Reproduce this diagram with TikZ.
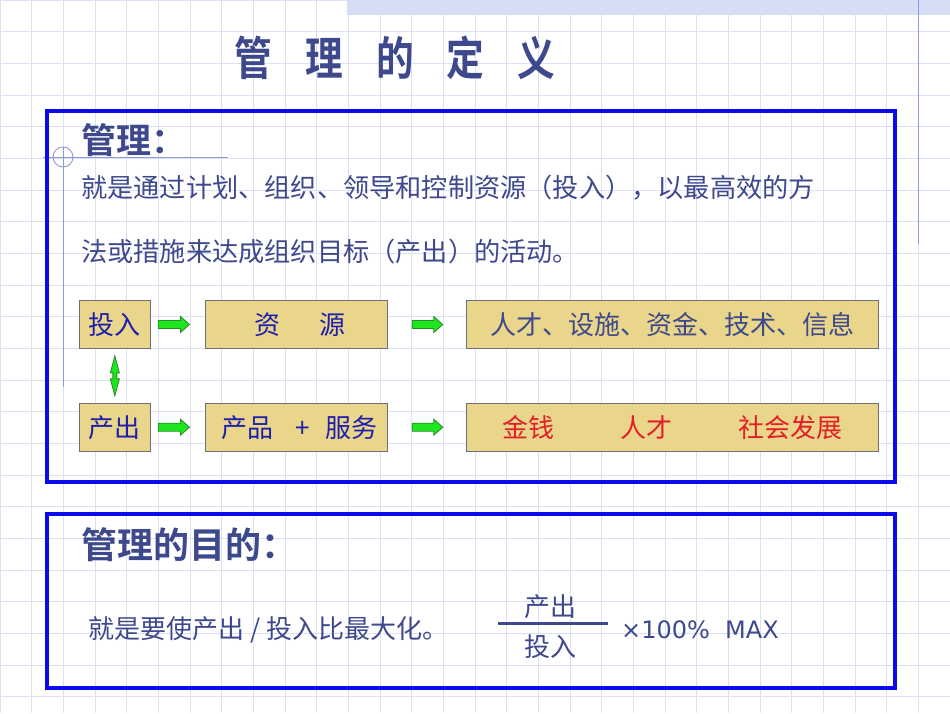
\documentclass[tikz,border=0pt]{standalone}
\usepackage{fontspec}
\usetikzlibrary{calc}
\setmainfont{DejaVu Sans}
\newfontfamily\cjk{Noto Sans CJK SC}
\IfFontExistsTF{Noto Sans CJK SC Bold}{%
  \newfontfamily\cjkbold{Noto Sans CJK SC Bold}%
  \newfontfamily\titlef[FakeStretch=0.82]{Noto Sans CJK SC Bold}}{%
  \newfontfamily\cjkbold[FakeBold=2]{Noto Sans CJK SC}%
  \newfontfamily\titlef[FakeStretch=0.82,FakeBold=2]{Noto Sans CJK SC}}
\definecolor{slate}{RGB}{62,72,140}
\definecolor{tboxblue}{RGB}{30,30,175}
\definecolor{tanfill}{RGB}{233,214,138}
\definecolor{tanline}{RGB}{110,110,120}
\definecolor{gfill}{RGB}{30,230,30}
\definecolor{gline}{RGB}{40,140,40}
\definecolor{redtxt}{RGB}{228,30,40}
\definecolor{gridc}{RGB}{218,225,246}
\definecolor{decoc}{RGB}{140,155,215}
\definecolor{bandc}{RGB}{214,222,246}
\definecolor{framec}{RGB}{10,10,235}
\newcommand\greenarrow[2]{\draw[garrow] let \p1=(#1), \p2=(#2) in
  (\x1,\y1+4pt) -- (\x2-9pt,\y1+4pt) -- (\x2-9pt,\y1+8pt) -- (\x2,\y1) --
  (\x2-9pt,\y1-8pt) -- (\x2-9pt,\y1-4pt) -- (\x1,\y1-4pt) -- cycle;}
\begin{document}
\begin{tikzpicture}[x=1pt,y=-1pt,
  gridline/.style={draw=gridc,line width=1pt},
  deco/.style={draw=decoc,line width=0.9pt},
  frame/.style={draw=framec,line width=4pt},
  tanbox/.style={draw=tanline,fill=tanfill,line width=1pt,inner sep=0pt,
    minimum height=47.6pt,font=\cjk\fontsize{26}{30}\selectfont,text=tboxblue},
  garrow/.style={fill=gfill,draw=gline,line width=0.8pt,line join=miter},
  heading/.style={anchor=west,inner sep=0pt,text=slate,font=\cjkbold\fontsize{35}{40}\selectfont},
  body/.style={anchor=west,inner sep=0pt,text=slate,font=\cjk\fontsize{26.2}{30}\selectfont},
  fracline/.style={draw=slate,line width=3pt}]
\useasboundingbox (0,0) rectangle (950,713);
\fill[white] (0,0) rectangle (950,713);
% grid
\foreach \i in {0,...,30} \draw[gridline] (\i*31.667,0) -- (\i*31.667,713);
\foreach \j in {0,...,22} \draw[gridline] (0,\j*31.667) -- (950,\j*31.667);
% top band and decorations
\fill[bandc] (347,0) rectangle (950,15);
\draw[deco] (918,0) -- (918,244);
\draw[deco] (63,157) circle (10);
\draw[deco] (43,157) -- (228,157);
\draw[deco] (63,147) -- (63,387);
% frames
\draw[frame] (47,111) rectangle (895,482);
\draw[frame] (47,514) rectangle (895,688);
% title
\node[inner sep=0pt,text=slate,font=\titlef\fontsize{46}{50}\selectfont] (title) at (395,58)
  {管\hspace{33pt}理\hspace{33pt}的\hspace{33pt}定\hspace{33pt}义};
% first section
\node[heading] (h1) at (81,140) {管理：};
\node[body] (l1) at (81,188) {就是通过计划、组织、领导和控制资源（投入），以最高效的方};
\node[body] (l2) at (81,252) {法或措施来达成组织目标（产出）的活动。};
% boxes
\node[tanbox,minimum width=71.7pt] (in) at (114.85,324.5) {投入};
\node[tanbox,minimum width=182pt] (res) at (296.7,324.5) {\hspace*{6pt}资\hspace{39pt}源};
\node[tanbox,minimum width=412pt,text=slate] (resr) at (672.7,324.5) {人才、设施、资金、技术、信息};
\node[tanbox,minimum width=71.7pt] (out) at (114.85,427.2) {产出};
\node[tanbox,minimum width=182pt] (prod) at (296.7,427.2) {\hspace*{6pt}产品\hspace{22pt}+\hspace{16pt}服务};
\node[tanbox,minimum width=412pt,text=redtxt] (outr) at (672.7,427.2) {金钱\hspace{66pt}人才\hspace{66pt}社会发展};
% arrows
\greenarrow{[xshift=7pt]in.east}{[xshift=-15.7pt]res.west}
\greenarrow{[xshift=24pt]res.east}{[xshift=-23.4pt]resr.west}
\greenarrow{[xshift=7pt]out.east}{[xshift=-15.7pt]prod.west}
\greenarrow{[xshift=24pt]prod.east}{[xshift=-23.4pt]outr.west}
\draw[garrow] ($(in.south)!0.5!(out.north)$) ++(0,-20) -- ++(4.5,17) -- ++(-2.5,0) -- ++(0,6)
  -- ++(2.5,0) -- ++(-4.5,17) -- ++(-4.5,-17) -- ++(2.5,0) -- ++(0,-6) -- ++(-2.5,0) -- cycle;
% second section
\node[heading,font=\cjkbold\fontsize{36}{40}\selectfont] (h2) at (81,545) {管理的目的：};
\node[body,font=\cjk\fontsize{26}{30}\selectfont] (goal) at (88,630) {就是要使产出 / 投入比最大化。};
\node[inner sep=0pt,text=slate,font=\cjk\fontsize{26}{30}\selectfont] (num) at (550,607) {产出};
\node[inner sep=0pt,text=slate,font=\cjk\fontsize{26}{30}\selectfont] (den) at (550,647) {投入};
\coordinate (fl) at (498,623);
\coordinate (fr) at (608,623);
\draw[fracline] (fl) -- (fr);
\node[anchor=west,inner sep=0pt,text=slate,font=\fontsize{24}{28}\selectfont] (mx) at (621,630) {×100\%\ \ MAX};
\end{tikzpicture}
\end{document}
